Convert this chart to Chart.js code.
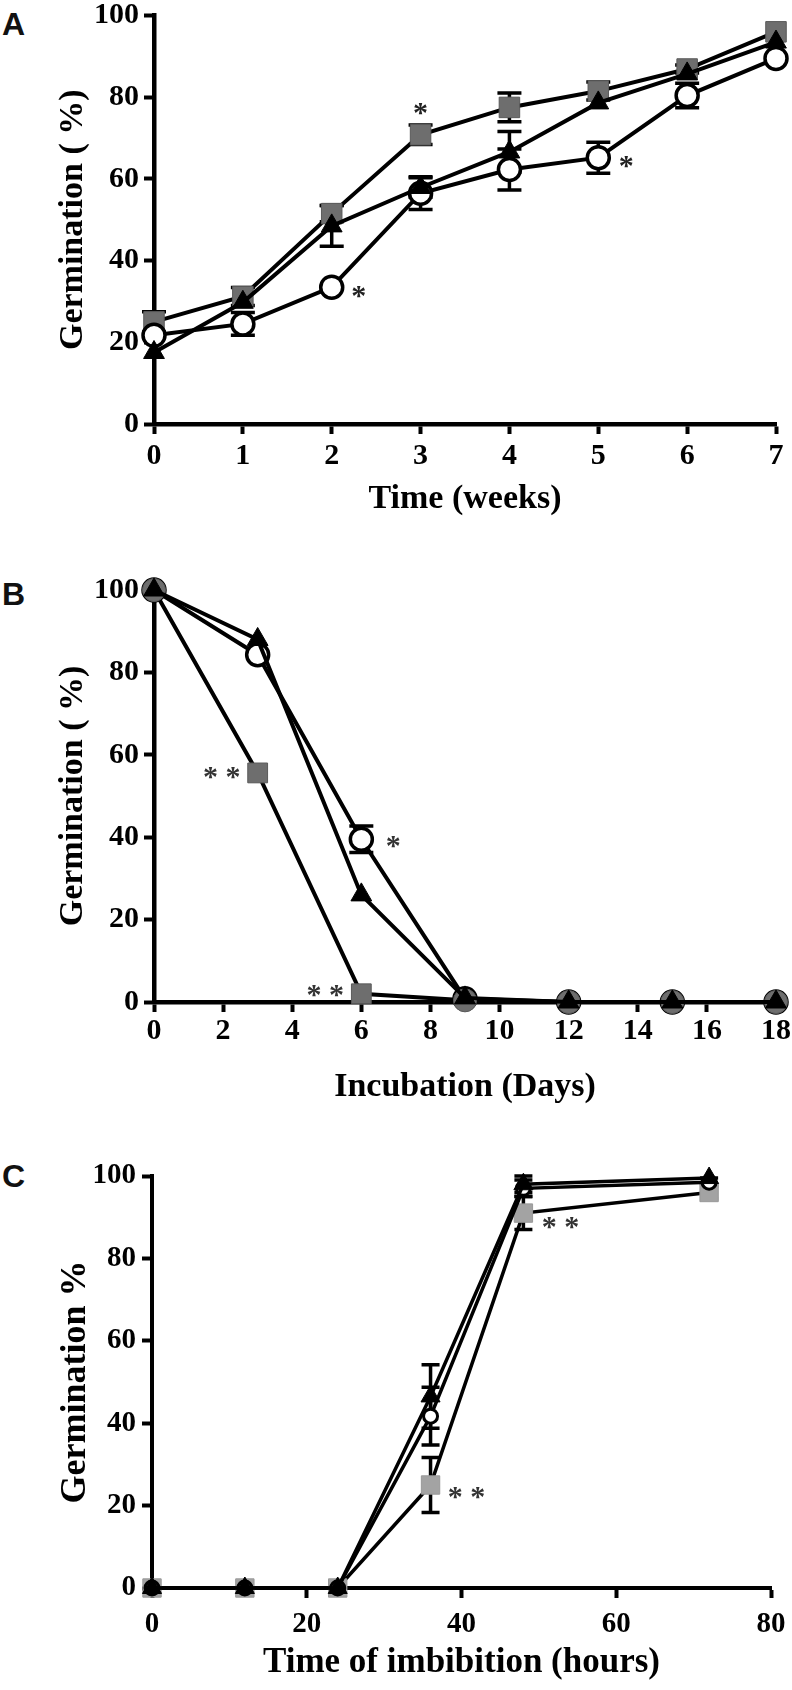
<!DOCTYPE html>
<html>
<head>
<meta charset="utf-8">
<script src="https://cdn.jsdelivr.net/npm/chart.js@4.4.1/dist/chart.umd.min.js"></script>
<style>
  html, body { margin: 0; padding: 0; background: #fff; width: 792px; height: 1690px; overflow: hidden; position: relative; }
  canvas { position: absolute; left: 0; }
  .tag { position: absolute; left: 2px; font: bold 32px 'Liberation Sans', Arial, sans-serif; line-height: 36px; color: #111; }
</style>
</head>
<body>
<div class="tag" style="top:6px">A</div>
<div class="tag" style="top:576px">B</div>
<div class="tag" style="top:1158px">C</div>
<canvas id="chartA" width="792" height="516" style="top:0"></canvas>
<canvas id="chartB" width="792" height="564" style="top:540px"></canvas>
<canvas id="chartC" width="792" height="560" style="top:1120px"></canvas>
<script>
Chart.defaults.font.family = "'Liberation Serif', 'Times New Roman', serif";
Chart.defaults.color = '#000';

// A: germination over storage time (weeks)
const weeks        = [0, 1, 2, 3, 4, 5, 6, 7];
const aTriangle    = [17.5, 29.8, 48.5, 57.9, 66.6, 78.6, 85.7, 93.5];
const aTriangleErr = [0, 0, 5, 2.4, 5, 0, 0, 0];
const aCircle      = [21.7, 24.5, 33.5, 56.5, 62.3, 65.2, 80.4, 89.5];
const aCircleErr   = [0, 2.8, 0, 4, 5, 3.8, 3, 0];
const aSquare      = [25, 31.2, 51.5, 70.8, 77.5, 81.5, 86.9, 96];
const aSquareErr   = [2.5, 2.2, 2, 2.4, 3.5, 2.2, 1, 0];

// B: germination after incubation (days)
const days         = [0, 3, 6, 9, 12, 15, 18];
const bTriangle    = [100, 88, 26, 1, 0, 0, 0];
const bSquare      = [100, 55.6, 2, 0.4, 0, 0, 0];
const bCircle      = [100, 84.3, 39.5, 0.8, 0, 0, 0];
const bCircleErr   = [0, 0, 3.2, 0, 0, 0, 0];
const bSquareShape = ['circle', 'rect', 'rect', 'circle', 'circle', 'circle', 'circle'];

// C: germination vs time of imbibition (hours)
const hours        = [0, 12, 24, 36, 48, 72];
const cTriangle    = [0, 0, 0, 46.5, 98, 99.5];
const cTriangleErr = [0, 0, 0, 7.7, 2, 0];
const cCircle      = [0, 0, 0, 41.7, 97, 98.5];
const cCircleErr   = [0, 0, 0, 7, 2, 1];
const cSquare      = [0, 0, 0, 25, 91, 96];
const cSquareErr   = [0, 0, 0, 6.7, 4, 1.5];

// significance marks (offsets in px from the point)
const aStars = [
  { x: 2, y: 33.5, dx: 27, dy: 10,  text: '*' },
  { x: 3, y: 70.8, dx: 0,  dy: -21, text: '*' },
  { x: 5, y: 65.2, dx: 28, dy: 10,  text: '*' },
];
const bStars = [
  { x: 3, y: 55.6, dx: -36, dy: 5, text: '* *' },
  { x: 6, y: 2,    dx: -36, dy: 2, text: '* *' },
  { x: 6, y: 39.5, dx: 32,  dy: 8, text: '*' },
];
const cStars = [
  { x: 36, y: 25, dx: 36, dy: 13, text: '* *' },
  { x: 48, y: 91, dx: 37, dy: 15, text: '* *' },
];

const errorBars = {
  id: 'errorBars',
  beforeDatasetsDraw(chart) {
    const { ctx, scales: { x, y } } = chart;
    chart.data.datasets.forEach(ds => {
      if (!ds.errors) return;
      ctx.save();
      ctx.strokeStyle = '#000';
      ctx.lineWidth = ds.errorWidth || 3.5;
      const w = ds.capHalf || 12;
      ds.data.forEach((p, j) => {
        const e = ds.errors[j];
        if (!e) return;
        const px = x.getPixelForValue(p.x);
        const top = y.getPixelForValue(p.y + e);
        const bot = y.getPixelForValue(p.y - e);
        ctx.beginPath();
        ctx.moveTo(px, top); ctx.lineTo(px, bot);
        ctx.moveTo(px - w, top); ctx.lineTo(px + w, top);
        ctx.moveTo(px - w, bot); ctx.lineTo(px + w, bot);
        ctx.stroke();
      });
      ctx.restore();
    });
  }
};

const stars = {
  id: 'stars',
  afterDatasetsDraw(chart, args, opts) {
    const { ctx, scales: { x, y } } = chart;
    ctx.save();
    ctx.fillStyle = opts.color || '#222';
    ctx.font = opts.font;
    ctx.textAlign = 'center';
    ctx.textBaseline = 'middle';
    (opts.items || []).forEach(s => {
      ctx.fillText(s.text, x.getPixelForValue(s.x) + s.dx, y.getPixelForValue(s.y) + s.dy);
    });
    ctx.restore();
  }
};

function series(xs, ys, errs, style) {
  return Object.assign({
    data: xs.map((x, i) => ({ x, y: ys[i] })),
    errors: errs,
    borderColor: '#000',
    borderWidth: 4,
    tension: 0,
    clip: false,
  }, style);
}

const TRI  = { pointStyle: 'triangle', pointRadius: 12, pointBackgroundColor: '#000', pointBorderColor: '#000', pointBorderWidth: 1 };
const CIRC = { pointStyle: 'circle', pointRadius: 11, pointBackgroundColor: '#fff', pointBorderColor: '#000', pointBorderWidth: 3.5 };
const SQR  = { pointStyle: 'rect', pointRadius: 14.5, pointBackgroundColor: '#6e6e6e', pointBorderColor: '#5a5a5a', pointBorderWidth: 1 };

function makePanel(id, o) {
  return new Chart(document.getElementById(id), {
    type: 'line',
    data: { datasets: o.datasets },
    options: {
      responsive: false, animation: false, devicePixelRatio: 1,
      events: [],
      layout: { padding: { top: o.padTop, right: o.padRight, left: 0, bottom: 0 } },
      plugins: {
        legend: { display: false },
        tooltip: { enabled: false },
        stars: { items: o.stars, font: o.starFont, color: o.starColor },
      },
      scales: {
        x: {
          type: 'linear', position: 'bottom', min: o.xMin, max: o.xMax,
          border: { display: true, color: '#000', width: o.axisWidth },
          grid: { drawOnChartArea: false, drawTicks: true, tickLength: 10, tickWidth: 4, tickColor: '#000' },
          ticks: { stepSize: o.xStep, color: '#000', font: o.tickFont, padding: o.xPad, maxRotation: 0, autoSkip: false },
          title: { display: true, text: o.xTitle, color: '#000', font: o.xTitleFont, padding: 0 },
          afterFit(s) { s.height = o.xHeight; s.paddingLeft = 0; s.paddingRight = 0; },
        },
        y: {
          min: 0, max: 100,
          border: { display: true, color: '#000', width: o.axisWidth },
          grid: { drawOnChartArea: false, drawTicks: true, tickLength: 10, tickWidth: 4, tickColor: '#000' },
          ticks: { stepSize: 20, color: '#000', font: o.tickFont, padding: o.yPad },
          title: { display: true, text: o.yTitle, color: '#000', font: o.yTitleFont, padding: { top: o.yTitlePad, bottom: 0 } },
          afterFit(s) { s.width = o.yWidth; s.paddingTop = 0; s.paddingBottom = 0; },
        },
      },
    },
    plugins: [errorBars, stars],
  });
}

const timesTick  = { size: 30, weight: 'bold', lineHeight: 1.2 };
const timesTitle = { size: 34, weight: 'bold', lineHeight: 1 };

makePanel('chartA', {
  datasets: [
    series(weeks, aTriangle, aTriangleErr, TRI),
    series(weeks, aCircle, aCircleErr, CIRC),
    series(weeks, aSquare, aSquareErr, SQR),
  ],
  padTop: 11, padRight: 16, yWidth: 154, xHeight: 92,
  xMin: 0, xMax: 7, xStep: 1, xPad: 4, yPad: 5, axisWidth: 4.5,
  tickFont: timesTick, xTitleFont: timesTitle, yTitleFont: timesTitle, yTitlePad: 56,
  xTitle: 'Time (weeks)', yTitle: 'Germination ( %)',
  stars: aStars, starFont: "bold 30px 'Liberation Serif'", starColor: '#222',
});

makePanel('chartB', {
  datasets: [
    series(days, bTriangle, null, TRI),
    series(days, bSquare, null, Object.assign({}, SQR, { pointStyle: bSquareShape, pointRadius: [11.5, 14, 14, 11.5, 11.5, 11.5, 11.5] })),
    series(days, bCircle, bCircleErr, CIRC),
  ],
  padTop: 50, padRight: 16, yWidth: 154, xHeight: 102,
  xMin: 0, xMax: 18, xStep: 2, xPad: 1, yPad: 5, axisWidth: 4.5,
  tickFont: timesTick, xTitleFont: timesTitle, yTitleFont: timesTitle, yTitlePad: 56,
  xTitle: 'Incubation (Days)', yTitle: 'Germination ( %)',
  stars: bStars, starFont: "bold 30px 'Liberation Serif'", starColor: '#333',
});

const cStyle = { borderWidth: 3.5, capHalf: 9, errorWidth: 3.5 };
makePanel('chartC', {
  datasets: [
    series(hours, cTriangle, cTriangleErr, Object.assign({}, TRI, cStyle, { pointRadius: 11 })),
    series(hours, cCircle, cCircleErr, Object.assign({}, CIRC, cStyle, { pointRadius: 7, pointBorderWidth: 3 })),
    series(hours, cSquare, cSquareErr, Object.assign({}, SQR, cStyle, { pointRadius: 13, pointBackgroundColor: '#a3a3a3', pointBorderColor: '#999' })),
  ],
  padTop: 56, padRight: 21, yWidth: 152, xHeight: 92,
  xMin: 0, xMax: 80, xStep: 20, xPad: 9, yPad: 6, axisWidth: 4,
  tickFont: { size: 29, weight: 'bold', lineHeight: 1.2 },
  xTitleFont: { size: 35, weight: 'bold', lineHeight: 1 },
  yTitleFont: { size: 36, weight: 'bold', lineHeight: 1 }, yTitlePad: 58,
  xTitle: 'Time of imbibition (hours)', yTitle: 'Germination %',
  stars: cStars, starFont: "bold 30px 'Liberation Serif'", starColor: '#333',
});
</script>
</body>
</html>
